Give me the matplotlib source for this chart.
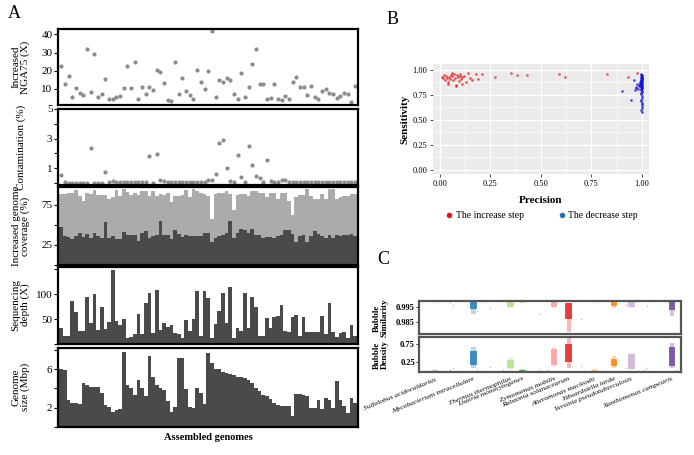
import matplotlib
matplotlib.use('Agg')
import matplotlib.pyplot as plt
import numpy as np
from matplotlib.lines import Line2D

plt.rcParams['font.family'] = ['Liberation Serif', 'DejaVu Serif']

# ---------------- Panel A data (81 assembled genomes) ----------------
nga75 = [22.6, 12.4, 17.2, 5.6, 10.4, 7.4, 6.7, 31.9, 8.1, 29.4,
         5.6, 6.9, 15.2, 4.1, 4.1, 5.4, 6.1, 10.4, 22.8, 10.4,
         24.8, 4.3, 10.7, 7.2, 11.1, 9.1, 20.6, 19.4, 13.1, 3.5,
         3.1, 24.6, 6.9, 15.7, 8.5, 6.5, 4.1, 20.2, 13.9, 9.6,
         20.0, 41.7, 5.4, 15.0, 13.5, 15.7, 14.8, 6.9, 4.3, 18.9,
         5.4, 11.1, 23.9, 32.2, 12.4, 12.8, 4.1, 4.6, 12.8, 4.1,
         3.5, 5.9, 4.1, 13.7, 16.5, 10.9, 10.9, 6.7, 11.5, 5.2,
         4.4, 8.9, 9.8, 7.4, 6.9, 5.0, 5.9, 7.6, 6.9, 2.6, 11.5]
contamination = [0.53, 0.05, 0.0, 0.0, 0.0, 0.0, 0.0, 0.0, 2.33, 0.0,
                 0.0, 0.0, 0.73, 0.07, 0.11, 0.03, 0.02, 0.02, 0.02, 0.02,
                 0.02, 0.02, 0.02, 0.02, 1.84, 0.0, 1.93, 0.22, 0.11, 0.05,
                 0.05, 0.07, 0.05, 0.05, 0.05, 0.05, 0.05, 0.05, 0.07, 0.05,
                 0.16, 0.16, 0.58, 2.67, 2.93, 0.98, 0.11, 0.07, 1.87, 0.40,
                 0.07, 2.51, 1.18, 0.44, 0.33, 0.02, 1.53, 0.09, 0.05, 0.03,
                 0.16, 0.16, 0.02, 0.02, 0.02, 0.02, 0.02, 0.02, 0.02, 0.02,
                 0.02, 0.02, 0.02, 0.02, 0.02, 0.02, 0.02, 0.02, 0.02, 0.02, 0.02]
coverage_total = [87.7, 88.6, 89.0, 89.8, 92.8, 86.4, 79.7, 89.8, 88.6, 92.8,
                  87.3, 87.3, 87.3, 82.0, 84.3, 92.8, 86.4, 94.0, 90.7, 87.3,
                  89.8, 87.3, 91.5, 91.5, 86.4, 91.5, 86.4, 88.6, 87.3, 89.8,
                  78.8, 86.4, 86.4, 87.3, 92.8, 84.3, 94.0, 91.5, 89.8, 88.6,
                  86.4, 56.8, 88.6, 89.8, 89.8, 91.5, 88.6, 68.6, 87.3, 88.6,
                  88.6, 86.4, 91.5, 91.5, 89.8, 89.8, 84.3, 89.8, 89.8, 82.0,
                  89.8, 89.8, 80.0, 61.9, 84.3, 87.3, 87.3, 94.0, 86.4, 82.0,
                  82.0, 88.6, 82.0, 94.0, 94.0, 82.0, 84.3, 86.4, 86.4, 88.6, 88.6]
coverage_base = [47.0, 36.4, 34.7, 32.2, 35.6, 39.8, 34.7, 39.0, 33.5, 39.8,
                 36.4, 33.5, 53.4, 33.5, 35.6, 32.2, 32.2, 40.7, 37.7, 37.7,
                 37.7, 30.1, 39.8, 42.8, 33.5, 35.6, 37.7, 54.7, 37.7, 37.7,
                 32.2, 44.0, 39.0, 34.7, 37.7, 36.4, 36.4, 36.4, 36.4, 39.8,
                 39.8, 28.0, 33.5, 36.4, 37.7, 39.8, 54.7, 33.5, 39.8, 44.9,
                 43.2, 39.8, 44.9, 37.7, 37.7, 33.5, 34.7, 34.7, 33.5, 36.4,
                 37.7, 43.2, 43.2, 39.0, 28.0, 35.6, 37.7, 29.2, 36.4, 42.0,
                 39.0, 35.6, 33.5, 37.7, 33.5, 37.7, 36.4, 37.7, 37.7, 39.0, 35.6]
depth = [32, 16.7, 16.7, 87, 64, 26, 26, 94, 42, 100,
         28.7, 74, 30, 44, 148.7, 47, 38.7, 50, 12, 14,
         20.7, 60, 20.7, 82, 102, 22, 108.7, 27.3, 42, 34,
         38, 22, 20.7, 12, 48.7, 26, 50, 106, 15.3, 106,
         92.7, 12, 40, 67.3, 102, 42, 115.3, 12, 32, 26,
         102, 32, 94, 74, 16.7, 16.7, 52, 32, 55.3, 56.7,
         79.3, 26, 24.7, 55.3, 59.3, 16.7, 54, 23.3, 23.3, 23.3,
         23.3, 57.3, 20, 82, 23.3, 13.3, 22, 23.3, 12.7, 38, 16.7]
genome_size = [6.04, 5.93, 2.77, 2.46, 2.46, 2.35, 4.53, 4.35, 4.14, 4.14,
               4.14, 3.58, 2.25, 2.10, 1.54, 1.79, 1.90, 7.82, 4.35, 4.00,
               3.30, 4.88, 4.00, 3.23, 7.37, 5.16, 4.35, 4.00, 3.82, 2.67,
               1.54, 2.07, 7.16, 7.16, 3.93, 2.04, 1.96, 4.10, 3.58, 2.42,
               7.68, 6.63, 6.04, 6.04, 5.68, 5.61, 5.54, 5.40, 5.19, 5.19,
               5.05, 4.91, 4.53, 4.07, 3.72, 3.37, 3.23, 2.95, 2.46, 2.25,
               2.14, 2.14, 2.14, 1.19, 3.47, 3.47, 3.30, 3.23, 1.96, 1.96,
               2.77, 1.90, 3.02, 2.81, 1.96, 4.77, 2.77, 2.14, 1.47, 3.05, 2.46]

# ---------------- Panel B data ----------------
inc_precision = [0.01, 0.015, 0.02, 0.025, 0.03, 0.035, 0.04, 0.045, 0.05, 0.055,
                 0.06, 0.065, 0.07, 0.075, 0.08, 0.085, 0.09, 0.095, 0.10, 0.105,
                 0.11, 0.12, 0.13, 0.14, 0.15, 0.16, 0.18, 0.19, 0.21,
                 0.04, 0.08, 0.11, 0.06, 0.10,
                 0.27, 0.35, 0.38, 0.43, 0.59, 0.62, 0.83, 0.93, 0.975]
inc_sensitivity = [0.93, 0.92, 0.95, 0.90, 0.94, 0.92, 0.86, 0.93, 0.91, 0.95,
                   0.94, 0.90, 0.96, 0.92, 0.84, 0.95, 0.93, 0.89, 0.96, 0.91,
                   0.86, 0.94, 0.88, 0.97, 0.92, 0.90, 0.96, 0.91, 0.96,
                   0.88, 0.85, 0.93, 0.97, 0.94,
                   0.93, 0.97, 0.95, 0.95, 0.96, 0.93, 0.96, 0.93, 0.97]
dec_precision = [0.995, 0.998, 0.999, 1.0, 0.997, 0.996, 0.999, 1.0, 0.998, 0.994,
                 0.999, 1.0, 0.997, 0.995, 0.998, 1.0, 0.999, 0.996, 0.993, 0.998,
                 1.0, 0.999, 0.997, 0.995, 0.999, 1.0, 0.998, 0.996, 0.999, 1.0,
                 0.997, 0.998, 0.999, 1.0, 0.996, 0.998, 0.999, 1.0, 0.985, 0.975,
                 0.97, 0.99, 0.965, 0.98, 0.999, 1.0, 0.998, 0.999, 1.0, 0.999,
                 0.904, 0.945, 0.96, 0.97, 0.99, 0.985]
dec_sensitivity = [0.96, 0.95, 0.94, 0.93, 0.93, 0.92, 0.91, 0.91, 0.90, 0.90,
                   0.89, 0.89, 0.88, 0.88, 0.87, 0.87, 0.86, 0.86, 0.85, 0.85,
                   0.84, 0.84, 0.83, 0.83, 0.82, 0.82, 0.81, 0.80, 0.79, 0.78,
                   0.77, 0.76, 0.74, 0.72, 0.70, 0.69, 0.67, 0.66, 0.84, 0.86,
                   0.82, 0.88, 0.80, 0.81, 0.64, 0.62, 0.60, 0.58, 0.92, 0.95,
                   0.79, 0.70, 0.90, 0.83, 0.87, 0.85]
b_ticks = [0.00, 0.25, 0.50, 0.75, 1.00]
b_ticklabels = ['0.00', '0.25', '0.50', '0.75', '1.00']

# ---------------- Panel C data ----------------
species = ["Sulfolobus acidocaldarius", "Mycobacterium intracellulare",
           "Thermus thermophilus", "Listeria monocytogenes", "Zymomonas mobilis",
           "Ralstonia solanacearum", "Alteromonas macleodii", "Edwardsiella tarda",
           "Yersinia pseudotuberculosis", "Xanthomonas campestris"]
species_pos = [6.0, 20.8, 35.0, 39.5, 51.5, 57.2, 67.0, 74.4, 81.0, 96.6]
species_colors = ['#A6CEE3', '#1F78B4', '#B2DF8A', '#33A02C', '#FB9A99',
                  '#E31A1C', '#FDBF6F', '#FF7F00', '#CAB2D6', '#6A3D9A']
sim_core_low = [0.9983, 0.9935, 0.9950, 0.9983, 0.9952, 0.9870, 0.9983, 0.9955, 0.9952, 0.9928]
sim_core_high = [0.9990, 0.9983, 0.9982, 0.9990, 0.9983, 0.9978, 0.9990, 0.9983, 0.9983, 0.9983]
sim_tail_low = [0.9979, 0.9905, 0.9940, 0.9979, 0.9945, 0.9785, 0.9979, 0.9945, 0.9945, 0.9890]
dens_core_low = [0.01, 0.17, 0.08, 0.01, 0.17, 0.27, 0.00, 0.14, 0.06, 0.15]
dens_core_high = [0.04, 0.55, 0.30, 0.04, 0.62, 0.75, 0.04, 0.34, 0.48, 0.66]
dens_tail_low = [0.00, 0.08, 0.04, 0.00, 0.12, 0.10, 0.00, 0.10, 0.03, 0.08]
dens_tail_high = [0.06, 0.68, 0.40, 0.06, 0.66, 0.92, 0.06, 0.42, 0.52, 0.78]
other_x = [1, 3, 8, 10, 12, 14, 16, 24, 26, 28, 30, 32, 41, 43, 45, 47, 49, 59,
           61, 63, 69, 71, 84, 86, 88, 90, 92, 94, 98, 13, 27, 46, 62, 87, 22, 79]
other_sim = [0.9988, 0.9987, 0.9989, 0.9988, 0.9986, 0.9988, 0.9989, 0.9987, 0.9988, 0.9989,
             0.9987, 0.9988, 0.9989, 0.9988, 0.9987, 0.9988, 0.9989, 0.9988, 0.9987, 0.9989,
             0.9988, 0.9987, 0.9988, 0.9989, 0.9987, 0.9988, 0.9989, 0.9988, 0.9987,
             0.9965, 0.9940, 0.9900, 0.9870, 0.9955, 0.9925, 0.9960]
other_dens = [0.02, 0.02, 0.01, 0.02, 0.03, 0.02, 0.01, 0.02, 0.02, 0.01,
              0.02, 0.03, 0.02, 0.01, 0.02, 0.02, 0.03, 0.02, 0.01, 0.02,
              0.02, 0.01, 0.02, 0.03, 0.02, 0.01, 0.02, 0.02, 0.03,
              0.08, 0.12, 0.06, 0.15, 0.10, 0.05, 0.09]
sim_ticks = [0.985, 0.995]
dens_ticks = [0.25, 0.75]

# ---------------- Figure ----------------
W, H = 694, 455
fig = plt.figure(figsize=(W / 100, H / 100), dpi=100)


def R(x0, y0, x1, y1):
    return [x0 / W, 1 - y1 / H, (x1 - x0) / W, (y1 - y0) / H]


idx = np.arange(len(nga75))
XL = (-0.9, 80.8)


def styleA(ax):
    for s in ax.spines.values():
        s.set_linewidth(1.6)
        s.set_color('black')
    ax.set_xlim(*XL)
    ax.set_xticks([])
    ax.tick_params(axis='y', direction='out', length=3, width=0.8, labelsize=8, pad=1)


ax1 = fig.add_axes(R(58, 29, 358, 105))
ax1.scatter(idx, nga75, s=9, color='#8C8C8C', linewidths=0)
ax1.set_ylim(1, 43)
ax1.set_yticks([10, 20, 30, 40])
styleA(ax1)

ax2 = fig.add_axes(R(58, 109, 358, 185))
ax2.scatter(idx, contamination, s=9, color='#8C8C8C', linewidths=0)
ax2.set_ylim(-0.15, 5.0)
ax2.set_yticks([0, 1, 2, 3, 4, 5])
ax2.set_yticklabels(['', '1', '', '3', '', '5'])
styleA(ax2)

ax3 = fig.add_axes(R(58, 187, 358, 265))
ax3.bar(idx, coverage_total, width=1.0, color='#ABABAB', linewidth=0)
ax3.bar(idx, coverage_base, width=1.0, color='#4A4A4A', linewidth=0)
ax3.set_ylim(0, 97)
ax3.set_yticks([0, 25, 50, 75])
ax3.set_yticklabels(['', '25', '', '75'])
styleA(ax3)

ax4 = fig.add_axes(R(58, 267, 358, 344))
ax4.bar(idx, depth, width=1.0, color='#4A4A4A', linewidth=0)
ax4.set_ylim(0, 155)
ax4.set_yticks([0, 50, 100, 150])
ax4.set_yticklabels(['', '50', '100', ''])
styleA(ax4)

ax5 = fig.add_axes(R(58, 348, 358, 427))
ax5.bar(idx, genome_size, width=1.0, color='#4A4A4A', linewidth=0)
ax5.set_ylim(0, 8.2)
ax5.set_yticks([0, 2, 4, 6, 8])
ax5.set_yticklabels(['', '2', '', '6', ''])
styleA(ax5)

ylabs = [("Increased\nNGA75 (X)", 67), ("Contamination (%)", 147),
         ("Increased genome\ncoverage (%)", 226), ("Sequencing\ndepth (X)", 305),
         ("Genome\nsize (Mbp)", 387)]
for txt, yc in ylabs:
    fig.text(21 / W, 1 - yc / H, txt, rotation=90, ha='center', va='center',
             fontsize=8, multialignment='center', linespacing=1.0)
fig.text(208 / W, 1 - 437 / H, "Assembled genomes", ha='center', va='center',
         fontsize=7.5, fontweight='bold')

# panel letters
fig.text(8 / W, 1 - 14 / H, "A", fontsize=13, ha='left', va='center')
fig.text(387 / W, 1 - 19 / H, "B", fontsize=13, ha='left', va='center')
fig.text(377 / W, 1 - 260 / H, "C", fontsize=13, ha='left', va='center')

# ---------------- Panel B ----------------
axB = fig.add_axes(R(433, 64, 649, 174))
axB.set_facecolor('#EBEBEB')
axB.set_xlim(-0.035, 1.036)
axB.set_ylim(-0.04, 1.057)
axB.set_xticks(b_ticks)
axB.set_xticklabels(b_ticklabels)
axB.set_yticks(b_ticks)
axB.set_yticklabels(b_ticklabels)
axB.set_xticks([0.125, 0.375, 0.625, 0.875], minor=True)
axB.set_yticks([0.125, 0.375, 0.625, 0.875], minor=True)
axB.grid(which='major', color='white', linewidth=1.0)
axB.grid(which='minor', color='white', linewidth=0.5)
axB.set_axisbelow(True)
for s in axB.spines.values():
    s.set_visible(False)
axB.tick_params(which='major', direction='out', length=2.5, width=0.6, labelsize=6,
                color='#333333', pad=1.5)
axB.tick_params(which='minor', length=0)
axB.scatter(inc_precision, inc_sensitivity, s=3.5, color='#E31A1C', alpha=0.75, linewidths=0)
axB.scatter(dec_precision, dec_sensitivity, s=3.5, color='#1010CC', alpha=0.75, linewidths=0)
axB.set_xlabel("Precision", fontsize=8, fontweight='bold', labelpad=6)
axB.set_ylabel("Sensitivity", fontsize=8, fontweight='bold', labelpad=2)
handles = [Line2D([], [], marker='o', linestyle='', color='#E31A1C', markersize=3),
           Line2D([], [], marker='o', linestyle='', color='#1F78B4', markersize=3)]
fig.legend(handles, ["The increase step", "The decrease step"], loc='center',
           bbox_to_anchor=(541 / W, 1 - 216 / H), ncol=2, frameon=False,
           fontsize=7, handletextpad=0.2, columnspacing=3.4, handlelength=1.0)

# ---------------- Panel C ----------------
axC1 = fig.add_axes(R(419, 301, 681, 334))
axC2 = fig.add_axes(R(419, 337, 681, 372))
for ax in (axC1, axC2):
    ax.set_xlim(0, 100)
    for s in ax.spines.values():
        s.set_linewidth(1.6)
        s.set_color('#555555')
    ax.tick_params(axis='y', direction='out', length=2, width=0.6, labelsize=6, pad=1)
    ax.tick_params(axis='x', length=0)

pos = np.array(species_pos)
for ax, lo, hi, tlo, thi, oy in (
        (axC1, sim_core_low, sim_core_high, sim_tail_low, sim_core_high, other_sim),
        (axC2, dens_core_low, dens_core_high, dens_tail_low, dens_tail_high, other_dens)):
    ax.scatter(other_x, oy, s=1.2, color='#999999', alpha=0.6, linewidths=0)
    lo_a, hi_a = np.array(lo), np.array(hi)
    tlo_a, thi_a = np.array(tlo), np.array(thi)
    ax.bar(pos, thi_a - tlo_a, bottom=tlo_a, width=1.8, color=species_colors,
           alpha=0.3, linewidth=0)
    ax.bar(pos, hi_a - lo_a, bottom=lo_a, width=2.6, color=species_colors,
           alpha=0.8, linewidth=0)

axC1.set_ylim(0.977, 0.999)
axC1.set_yticks(sim_ticks)
axC1.set_yticklabels(['0.985', '0.995'])
axC1.set_xticks([])
axC2.set_ylim(-0.02, 0.95)
axC2.set_yticks(dens_ticks)
axC2.set_yticklabels(['0.25', '0.75'])
axC2.set_xticks(species_pos)
axC2.set_xticklabels(species, rotation=22, ha='right', va='top', rotation_mode='anchor',
                     fontsize=5.3, fontstyle='italic')
axC2.tick_params(axis='x', pad=3)
for ax in (axC1, axC2):
    for t in ax.get_yticklabels():
        t.set_fontweight('bold')

fig.text(381 / W, 1 - 318 / H, "Bubble\nSimilarity", rotation=90, ha='center', va='center',
         fontsize=6.5, fontweight='bold', linespacing=1.0, multialignment='center')
fig.text(381 / W, 1 - 355 / H, "Bubble\nDensity", rotation=90, ha='center', va='center',
         fontsize=6.5, fontweight='bold', linespacing=1.0, multialignment='center')

fig.savefig('out.png', dpi=100)
